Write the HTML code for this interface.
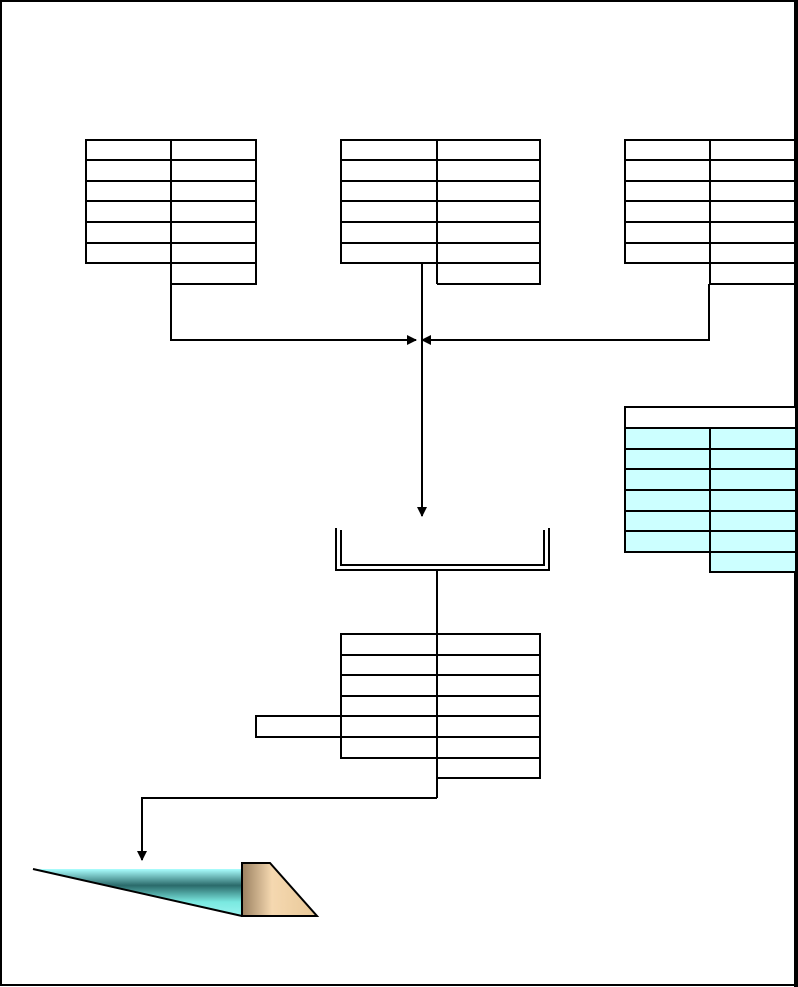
<!DOCTYPE html>
<html><head><style>
html,body{margin:0;padding:0;background:#fff}
svg{display:block}
</style></head><body>
<svg width="798" height="987" viewBox="0 0 798 987" xmlns="http://www.w3.org/2000/svg">
<defs>
<linearGradient id="cy" x1="0" y1="0" x2="0" y2="1">
<stop offset="0" stop-color="#aaffff"/><stop offset="0.35" stop-color="#2a6a6a"/><stop offset="0.7" stop-color="#7ae8e0"/><stop offset="1" stop-color="#9af5f0"/>
</linearGradient>
<linearGradient id="tan" x1="0" y1="0" x2="1" y2="0">
<stop offset="0" stop-color="#9a8060"/><stop offset="0.4" stop-color="#f5d8b0"/><stop offset="1" stop-color="#e8c898"/>
</linearGradient>
<marker id="ah" markerWidth="10" markerHeight="10" refX="9" refY="5" orient="auto" markerUnits="userSpaceOnUse">
<path d="M0,0 L10,5 L0,10 z" fill="#000"/></marker>
</defs>
<rect x="1" y="1" width="794" height="984" fill="none" stroke="#000" stroke-width="2"/>
<rect x="794" y="0" width="4" height="987" fill="#000"/>
<g fill="none" stroke="#000" stroke-width="2">
<!-- table 1 -->
<rect x="86" y="140" width="170" height="123"/>
<line x1="171" y1="140" x2="171" y2="284"/>
<path d="M86 160H256M86 181H256M86 201H256M86 222H256M86 243H256"/>
<path d="M171 284H256V263"/>
<!-- table 2 -->
<rect x="341" y="140" width="199" height="123"/>
<line x1="437" y1="140" x2="437" y2="284"/>
<path d="M341 160H540M341 181H540M341 201H540M341 222H540M341 243H540"/>
<path d="M437 284H540V263"/>
<!-- table 3 -->
<rect x="625" y="140" width="171" height="123"/>
<line x1="710" y1="140" x2="710" y2="284"/>
<path d="M625 160H796M625 181H796M625 201H796M625 222H796M625 243H796"/>
<path d="M710 284H796V263"/>
<!-- connectors -->
<path d="M171 284V340H416" marker-end="url(#ah)"/>
<path d="M709 284V340H422" marker-end="url(#ah)"/>
<path d="M422 263V516" marker-end="url(#ah)"/>
<!-- bracket -->
<path d="M336 528V570H549V528"/>
<path d="M341 530V565H544V530"/>
<line x1="437" y1="570" x2="437" y2="634"/>
</g>
<!-- cyan table -->
<rect x="625" y="407" width="171" height="21" fill="#fff" stroke="#000" stroke-width="2"/>
<rect x="625" y="428" width="171" height="124" fill="#ccffff" stroke="#000" stroke-width="2"/>
<rect x="710" y="552" width="86" height="20" fill="#ccffff" stroke="#000" stroke-width="2"/>
<g fill="none" stroke="#000" stroke-width="2">
<path d="M710 428V552M625 449H796M625 469H796M625 490H796M625 511H796M625 531H796"/>
<!-- table 4 -->
<rect x="341" y="634" width="199" height="124"/>
<line x1="437" y1="634" x2="437" y2="798"/>
<path d="M341 655H540M341 675H540M341 696H540M341 716H540M341 737H540"/>
<path d="M437 778H540V758"/>
<rect x="256" y="716" width="85" height="21"/>
<path d="M437 798H142V860" marker-end="url(#ah)"/>
</g>
<!-- shapes -->
<polygon points="33,869 242,869 242,916" fill="url(#cy)"/>
<line x1="33" y1="869" x2="242" y2="916" stroke="#000" stroke-width="2"/>
<polygon points="242,863 270,863 317,916 242,916" fill="url(#tan)" stroke="#000" stroke-width="2"/>
</svg>
</body></html>
